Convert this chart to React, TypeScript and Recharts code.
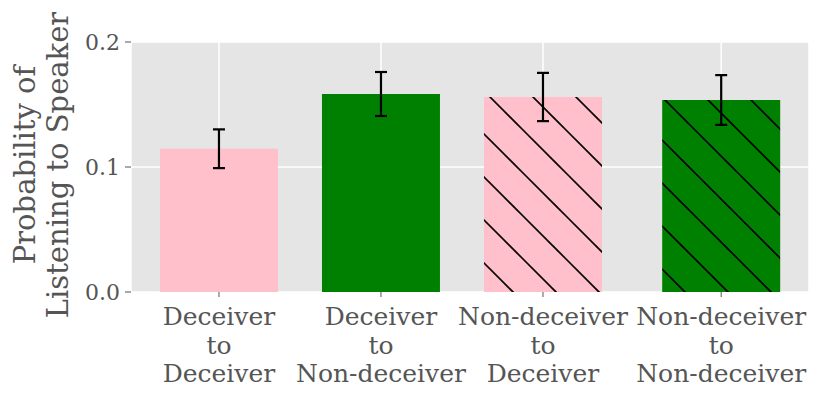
import React from 'react';
import { ComposedChart, Bar, XAxis, YAxis, CartesianGrid, ErrorBar, Cell } from 'recharts';

const categories = ['Deceiver\nto\nDeceiver', 'Deceiver\nto\nNon-deceiver', 'Non-deceiver\nto\nDeceiver', 'Non-deceiver\nto\nNon-deceiver'];
const positions = [0, 1, 2, 3.1];
const probabilities = [0.1146, 0.1584, 0.156, 0.1536];
const errors = [0.0155, 0.0176, 0.0193, 0.0199];
const fills = ['pink', 'green', 'url(#hatchPink)', 'url(#hatchGreen)'];
const yTicks = [0, 0.1, 0.2];

const data = categories.map((name, i) => ({
  name,
  pos: positions[i],
  value: probabilities[i],
  err: errors[i],
}));

const FONT = '"DejaVu Serif", serif';
const GRAY = '#555555';

function XTick(props: any) {
  const { x, y, payload } = props;
  const idx = positions.indexOf(payload.value);
  const lines = idx >= 0 ? categories[idx].split('\n') : [];
  return (
    <text x={x} y={y} textAnchor="middle" fill={GRAY} fontFamily={FONT} fontSize={25}>
      {lines.map((l, i) => (
        <tspan key={i} x={x} y={y + 26 + i * 28.5}>{l}</tspan>
      ))}
    </text>
  );
}

function YLabel() {
  return (
    <text transform="translate(0,165) rotate(-90)" textAnchor="middle" fill={GRAY} fontFamily={FONT} fontSize={29}>
      <tspan x={0} y={35}>Probability of</tspan>
      <tspan x={0} y={68}>Listening to Speaker</tspan>
    </text>
  );
}

function HatchPattern({ id, color }: { id: string; color: string }) {
  return (
    <pattern id={id} patternUnits="userSpaceOnUse" width={43} height={43}>
      <rect width={43} height={43} fill={color} />
      <line x1={-2} y1={35} x2={8} y2={45} stroke="black" strokeWidth={1.6} />
      <line x1={4} y1={-2} x2={45} y2={39} stroke="black" strokeWidth={1.6} />
    </pattern>
  );
}

export default function App() {
  return (
    <div style={{ position: 'fixed', left: 0, top: 0, background: 'white' }}>
      <ComposedChart
        width={830}
        height={400}
        data={data}
        margin={{ top: 42, right: 21, bottom: 78, left: 0 }}
      >
        <defs>
          <HatchPattern id="hatchPink" color="pink" />
          <HatchPattern id="hatchGreen" color="green" />
        </defs>
        <CartesianGrid fill="#E5E5E5" stroke="#FFFFFF" strokeWidth={1.5} />
        <XAxis
          dataKey="pos"
          type="number"
          domain={[-0.543, 3.642]}
          ticks={positions}
          interval={0}
          axisLine={false}
          tickLine={{ stroke: GRAY, strokeWidth: 1 }}
          tickSize={5}
          tick={<XTick />}
          allowDataOverflow
        />
        <YAxis
          type="number"
          domain={[0, 0.2]}
          ticks={yTicks}
          width={131}
          axisLine={false}
          tickLine={{ stroke: GRAY, strokeWidth: 1 }}
          tickSize={6}
          tickMargin={5}
          tickFormatter={(v: number) => v.toFixed(1)}
          tick={{ fill: GRAY, fontFamily: FONT, fontSize: 22 }}
          label={{ content: () => <YLabel /> }}
          allowDataOverflow
        />
        <Bar dataKey="value" barSize={118} isAnimationActive={false}>
          {data.map((d, i) => (
            <Cell key={d.name} fill={fills[i]} />
          ))}
          <ErrorBar dataKey="err" direction="y" width={6} stroke="black" strokeWidth={2.2} />
        </Bar>
      </ComposedChart>
    </div>
  );
}
